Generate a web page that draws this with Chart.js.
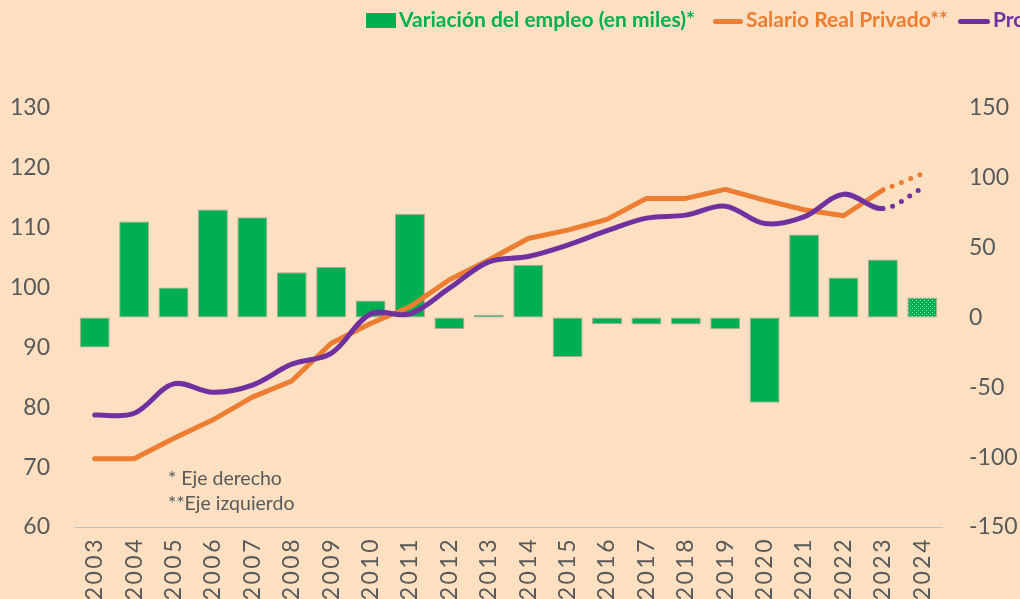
<!DOCTYPE html>
<html lang="es">
<head>
<meta charset="utf-8">
<title>Empleo, salario real y productividad</title>
<script src="https://cdn.jsdelivr.net/npm/chart.js@4.4.1/dist/chart.umd.min.js"></script>
<style>
    html, body {
        margin: 0;
        padding: 0;
        background: #fddfc2;
        overflow: hidden;
    }
    #wrap {
        position: relative;
        width: 1020px;
        height: 599px;
        overflow: hidden;
    }
    #chart {
        position: absolute;
        left: 0;
        top: 0;
    }
    .legend-item {
        position: absolute;
        top: 7px;
        white-space: nowrap;
        font-family: 'Lato', sans-serif;
        font-weight: bold;
        font-size: 21px;
        line-height: 24px;
    }
    .legend-item .mark {
        display: inline-block;
        vertical-align: middle;
        margin-right: 3px;
    }
    .note {
        position: absolute;
        left: 168px;
        font-family: 'Lato', sans-serif;
        font-size: 19.5px;
        line-height: 24px;
        color: #595959;
        white-space: nowrap;
    }
</style>
</head>
<body>
<div id="wrap">
    <canvas id="chart" width="1020" height="640"></canvas>
    <div class="legend-item" style="left:366px;color:#00b050">
        <span class="mark" style="width:30px;height:15px;background:#00b050;margin-top:-3px"></span>Variación del empleo (en miles)*
    </div>
    <div class="legend-item" style="left:713px;color:#ed7d31">
        <span class="mark" style="width:30px;height:5px;border-radius:3px;background:#ed7d31"></span>Salario Real Privado**
    </div>
    <div class="legend-item" style="left:958px;color:#7030a0">
        <span class="mark" style="width:32px;height:5px;border-radius:3px;background:#7030a0"></span>Productividad**
    </div>
    <div class="note" style="top:466px">* Eje derecho</div>
    <div class="note" style="top:491px">**Eje izquierdo</div>
</div>
<script>
(function() {
    'use strict';

    // --- data ---
    const years = ['2003', '2004', '2005', '2006', '2007', '2008', '2009', '2010', '2011', '2012', '2013',
                   '2014', '2015', '2016', '2017', '2018', '2019', '2020', '2021', '2022', '2023', '2024'];

    // right axis, thousands
    const empleo = [-21.5, 68.7, 21.5, 77.3, 71.8, 32.4, 36.2, 12.2, 74.2, -8.2, 1.9,
                    37.8, -28.2, -4.8, -5.0, -5.0, -8.4, -61.1, 59.4, 28.6, 41.5, 14.3];

    // left axis, index
    const salario = [71.4, 71.4, 74.8, 77.9, 81.7, 84.4, 90.7, 94.0, 96.8, 101.3, 104.6,
                     108.2, 109.6, 111.4, 114.9, 114.9, 116.4, 114.6, 113.0, 112.0, 116.3, 119.0];

    const productividad = [78.7, 79.0, 83.9, 82.5, 83.7, 87.2, 89.0, 95.6, 95.6, 99.9, 104.3,
                           105.2, 107.1, 109.5, 111.6, 112.1, 113.6, 110.7, 111.8, 115.6, 113.2, 116.6];

    const leftTicks = { min: 60, max: 130, step: 10 };
    const rightTicks = { min: -150, max: 150, step: 50 };

    const projected = years.length - 1;   // last year is a projection

    const green = '#00b050';
    const orange = '#ed7d31';
    const purple = '#7030a0';
    const tickColor = '#595959';

    // dotted fill for the projected bar
    function makePattern() {
        const c = document.createElement('canvas');
        c.width = 4;
        c.height = 4;
        const g = c.getContext('2d');
        g.fillStyle = green;
        g.fillRect(0, 0, 4, 4);
        g.fillStyle = '#8fdcb0';
        g.fillRect(0, 0, 1, 1);
        g.fillRect(2, 2, 1, 1);
        return g.createPattern(c, 'repeat');
    }
    const pattern = makePattern();

    const dottedLast = ctx => ctx.p1DataIndex === projected ? [0, 10] : undefined;

    // vertical year labels, a bit spaced out like the original
    const yearLabels = {
        id: 'yearLabels',
        afterDraw: function(chart) {
            const x = chart.scales.x;
            const c = chart.ctx;
            c.save();
            c.fillStyle = tickColor;
            c.font = '23px Lato';
            c.letterSpacing = '2.5px';
            c.textAlign = 'right';
            c.textBaseline = 'middle';
            x.ticks.forEach(function(t, i) {
                c.save();
                c.translate(x.getPixelForTick(i), x.top + 10);
                c.rotate(-Math.PI / 2);
                c.fillText(x.getLabelForValue(t.value), 0, 0);
                c.restore();
            });
            c.restore();
        }
    };

    const ctx = document.getElementById('chart');

    new Chart(ctx, {
        type: 'bar',
        data: {
            labels: years,
            datasets: [
                {
                    type: 'line',
                    label: 'Productividad**',
                    data: productividad,
                    yAxisID: 'yLeft',
                    borderColor: purple,
                    borderWidth: 5,
                    borderCapStyle: 'round',
                    borderJoinStyle: 'round',
                    tension: 0.35,
                    pointRadius: 0,
                    segment: { borderDash: dottedLast },
                    order: 0
                },
                {
                    type: 'line',
                    label: 'Salario Real Privado**',
                    data: salario,
                    yAxisID: 'yLeft',
                    borderColor: orange,
                    borderWidth: 5,
                    borderCapStyle: 'round',
                    borderJoinStyle: 'round',
                    tension: 0,
                    pointRadius: 0,
                    segment: { borderDash: dottedLast },
                    order: 1
                },
                {
                    type: 'bar',
                    label: 'Variación del empleo (en miles)*',
                    data: empleo,
                    yAxisID: 'yRight',
                    backgroundColor: c => c.dataIndex === projected ? pattern : green,
                    borderColor: 'rgba(120, 120, 120, 0.55)',
                    borderWidth: 1,
                    borderSkipped: false,
                    barPercentage: 0.76,
                    categoryPercentage: 1,
                    order: 2
                }
            ]
        },
        options: {
            responsive: false,
            animation: false,
            layout: { padding: { top: 108, left: 0, right: 0, bottom: 0 } },
            plugins: {
                legend: { display: false },
                tooltip: { enabled: false }
            },
            scales: {
                x: {
                    offset: true,
                    grid: { display: false, drawTicks: false },
                    border: { display: true, color: '#bfbfbf', width: 1 },
                    ticks: { display: false, autoSkip: false },
                    afterFit: function(scale) { scale.height = 113; }
                },
                yLeft: {
                    position: 'left',
                    min: leftTicks.min,
                    max: leftTicks.max,
                    grid: { display: false, drawTicks: false },
                    border: { display: false },
                    ticks: {
                        stepSize: leftTicks.step,
                        color: tickColor,
                        font: { family: 'Lato', size: 23 },
                        padding: 25
                    },
                    afterFit: function(scale) { scale.width = 75; }
                },
                yRight: {
                    position: 'right',
                    min: rightTicks.min,
                    max: rightTicks.max,
                    grid: { display: false, drawTicks: false },
                    border: { display: false },
                    ticks: {
                        stepSize: rightTicks.step,
                        color: tickColor,
                        font: { family: 'Lato', size: 23 },
                        padding: 27
                    },
                    afterFit: function(scale) { scale.width = 78; }
                }
            }
        },
        plugins: [yearLabels]
    });
})();
</script>
</body>
</html>
